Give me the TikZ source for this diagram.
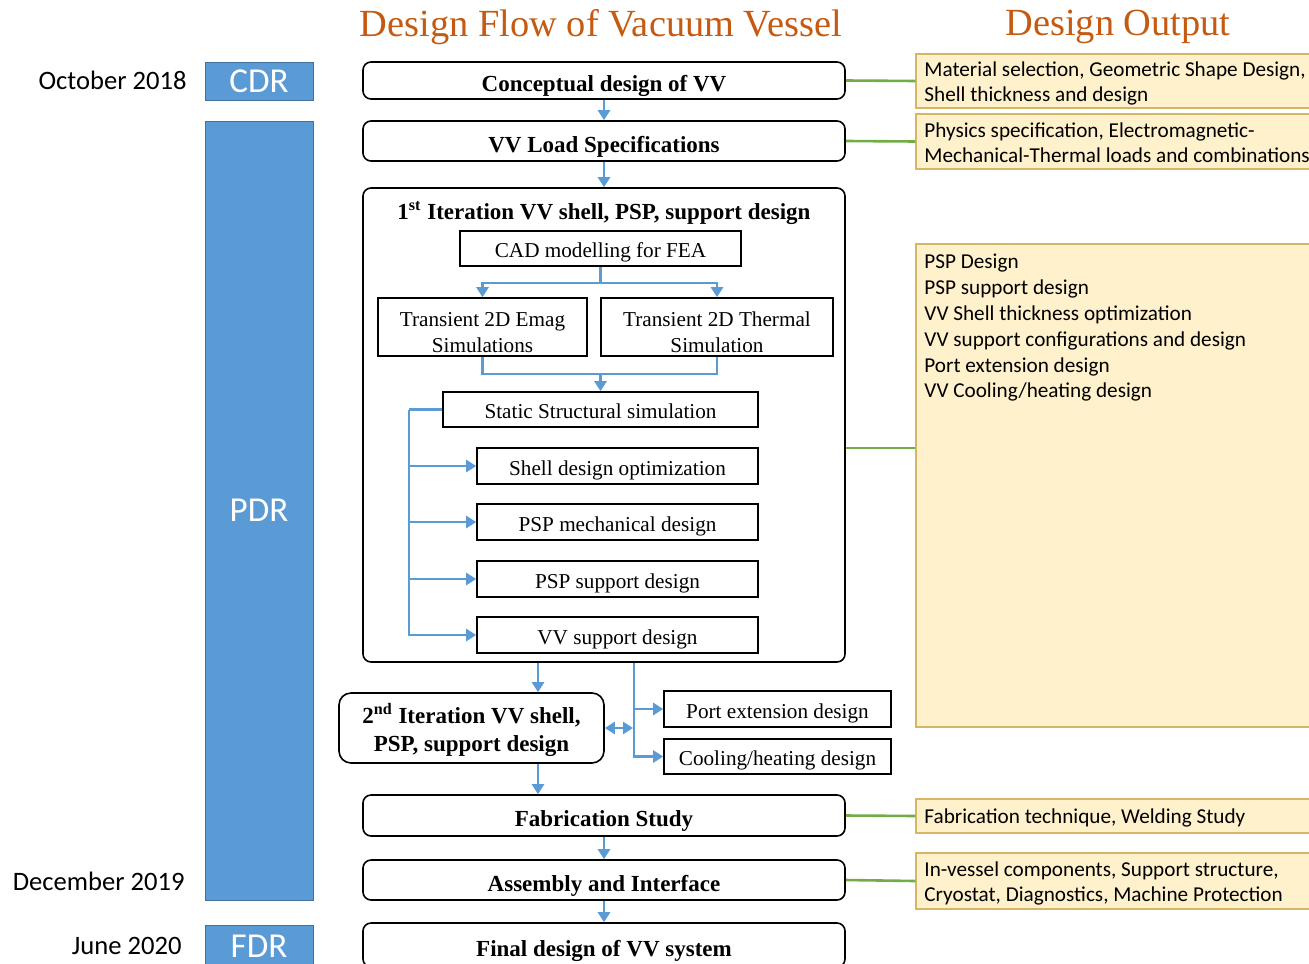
\documentclass[tikz,border=0pt]{standalone}
\usepackage{fontspec}
\setmainfont{Liberation Serif}
\newfontfamily\calfont{Carlito}
\usetikzlibrary{arrows.meta}
\definecolor{phaseblue}{RGB}{91,155,213}
\definecolor{phaseedge}{RGB}{65,113,156}
\definecolor{arrowblue}{RGB}{91,155,213}
\definecolor{greenc}{RGB}{112,173,71}
\definecolor{outfill}{RGB}{255,241,204}
\definecolor{outedge}{RGB}{214,182,100}
\definecolor{titleorange}{RGB}{197,90,17}
\begin{document}
\begin{tikzpicture}[x=0.5pt,y=-0.5pt,
  tip/.tip={Triangle[width=6pt,length=5pt]},
  mainbox/.style={draw, line width=0.8pt, rounded corners=4pt, minimum width=241pt, inner sep=0pt, text height=12pt, text depth=1pt, font=\bfseries\fontsize{11.5}{13}\selectfont},
  subbox/.style={draw, line width=0.8pt, inner sep=0pt, text height=10pt, text depth=1pt, font=\fontsize{10.6}{13}\selectfont},
  twoline/.style={draw, line width=0.8pt, inner sep=0pt, align=center, font=\fontsize{10.6}{13}\selectfont},
  outbox/.style={draw=outedge, fill=outfill, line width=0.7pt, minimum width=202pt, inner sep=0pt},
  outtext/.style={anchor=north west, inner sep=0pt, align=left, font=\calfont\fontsize{10.6}{12.9}\selectfont},
  phase/.style={draw=phaseedge, fill=phaseblue, line width=0.4pt, minimum width=54pt, inner sep=0pt, text=white, font=\calfont\fontsize{17.5}{19}\selectfont},
  datetext/.style={anchor=east, inner sep=0pt, font=\calfont\fontsize{13.3}{15}\selectfont},
  titletext/.style={text=titleorange, inner sep=0pt, font=\fontsize{19.2}{22}\selectfont},
  barrow/.style={draw=arrowblue, line width=1.3pt, -tip},
  bline/.style={draw=arrowblue, line width=1.3pt},
  gline/.style={draw=greenc, line width=1.3pt}
]
\useasboundingbox (0,0) rectangle (1309,963);
\clip (0,0) rectangle (1309,963);

% titles
\node[titletext] (t1) at (601,27) {Design Flow of Vacuum Vessel};
\node[titletext] (t2) at (1118,27) {Design Output};

% phases
\node[phase, minimum height=19pt] (cdr) at (259,81) {CDR};
\node[phase, minimum height=389.5pt] (pdr) at (259,510.5) {PDR};
\node[phase, minimum height=21.5pt] (fdr) at (259,946.5) {FDR};
\node[datetext] (d1) at (187,80) {October 2018};
\node[datetext] (d2) at (185,881) {December 2019};
\node[datetext] (d3) at (182,946) {June 2020};

% main flow
\node[mainbox, minimum height=18.5pt] (concept) at (604,80.5) {Conceptual design of VV};
\node[mainbox, minimum height=20pt] (load) at (604,141) {VV Load Specifications};
\node[mainbox, text height=0pt, text depth=0pt, minimum height=237pt] (iter1) at (604,425) {};
\node[inner sep=0pt, font=\bfseries\fontsize{11.5}{13}\selectfont] (iter1t) at (604,213) {1\textsuperscript{st} Iteration VV shell, PSP, support design};
\node[mainbox, minimum height=20.5pt] (fab) at (604,815.5) {Fabrication Study};
\node[mainbox, minimum height=20pt] (asm) at (604,880) {Assembly and Interface};
\node[mainbox, minimum height=22pt] (final) at (604,945) {Final design of VV system};

% inner boxes
\node[subbox, minimum width=140.5pt, minimum height=17.5pt] (cad) at (600.5,248.5) {CAD modelling for FEA};
\node[twoline, minimum width=104.5pt, minimum height=29pt] (emag) at (482.5,327) {\rule{0pt}{12.5pt}Transient 2D Emag\\Simulations};
\node[twoline, minimum width=116pt, minimum height=29pt] (therm) at (717,327) {\rule{0pt}{12.5pt}Transient 2D Thermal\\Simulation};
\node[subbox, minimum width=157.5pt, minimum height=17.5pt] (static) at (600.5,409.5) {Static Structural simulation};
\node[subbox, minimum width=140.5pt, minimum height=18pt] (shell) at (617.5,466) {Shell design optimization};
\node[subbox, minimum width=140.5pt, minimum height=18pt] (pspm) at (617.5,522) {PSP mechanical design};
\node[subbox, minimum width=140.5pt, minimum height=18pt] (psps) at (617.5,579) {PSP support design};
\node[subbox, minimum width=140.5pt, minimum height=18pt] (vvs) at (617.5,635) {VV support design};

% second iteration and side boxes
\node[draw, line width=0.8pt, rounded corners=6pt, minimum width=132.5pt, minimum height=35pt, inner sep=0pt, align=center, font=\bfseries\fontsize{11.5}{14}\selectfont] (iter2) at (471.5,728) {\rule{0pt}{12pt}2\textsuperscript{nd} Iteration VV shell,\\PSP, support design};
\node[subbox, minimum width=113.5pt, minimum height=18pt] (port) at (777.5,709) {Port extension design};
\node[subbox, minimum width=113.5pt, minimum height=17.5pt] (cool) at (777.5,756.5) {Cooling/heating design};

% outputs
\node[outbox, minimum height=27pt] (out1) at (1118,81) {};
\node[outbox, minimum height=27.5pt] (out2) at (1118,141.5) {};
\node[outbox, minimum height=241.5pt] (out3) at (1118,485.5) {};
\node[outbox, minimum height=17pt] (out4) at (1118,816) {};
\node[outbox, minimum height=28pt] (out5) at (1118,881) {};
\node[outtext] (o1) at (924,61) {Material selection, Geometric Shape Design,\\Shell thickness and design};
\node[outtext] (o2) at (924,122) {Physics specification, Electromagnetic-\\Mechanical-Thermal loads and combinations};
\node[outtext] (o3) at (924,254) {PSP Design\\PSP support design\\VV Shell thickness optimization\\VV support configurations and design\\Port extension design\\VV Cooling/heating design};
\node[outtext] (o4) at (924,808) {Fabrication technique, Welding Study};
\node[outtext] (o5) at (924,861) {In-vessel components, Support structure,\\Cryostat, Diagnostics, Machine Protection};

% green connectors
\draw[gline] (concept.east) -- (out1.west);
\draw[gline] (load.east) -- (out2.west);
\draw[gline] (iter1.east |- 0,448) -- (out3.west |- 0,448);
\draw[gline] (fab.east) -- (out4.west);
\draw[gline] (asm.east) -- (out5.west);

% main blue arrows
\draw[barrow] (concept.south) -- (load.north);
\draw[barrow] (load.south) -- (iter1.north);
\draw[barrow] (fab.south) -- (asm.north);
\draw[barrow] (asm.south) -- (final.north);

% inside iteration 1
\coordinate (split) at (600.5,283);
\coordinate (merge) at (600.5,374);
\draw[bline] (cad.south) -- (split);
\draw[barrow] (split) -| (emag.north);
\draw[barrow] (split) -| (therm.north);
\draw[bline] (emag.south) |- (merge);
\draw[bline] (therm.south) |- (merge);
\draw[barrow] (merge) -- (static.north);
\coordinate (rail) at (409,409.5);
\draw[bline] (static.west) -- (rail);
\draw[barrow] (rail) |- (shell.west);
\draw[barrow] (rail) |- (pspm.west);
\draw[barrow] (rail) |- (psps.west);
\draw[barrow] (rail) |- (vvs.west);

% below iteration 1
\draw[barrow] (iter1.south -| 538,0) -- (iter2.north -| 538,0);
\draw[barrow] (iter2.south -| 538,0) -- (fab.north -| 538,0);
\coordinate (branch) at (634,662);
\draw[barrow] (iter1.south -| branch) |- (port.west);
\draw[barrow] (iter1.south -| branch) |- (cool.west);
\draw[draw=arrowblue, line width=1.3pt, tip-tip] (iter2.east |- 0,728) -- (633,728);
\end{tikzpicture}
\end{document}
